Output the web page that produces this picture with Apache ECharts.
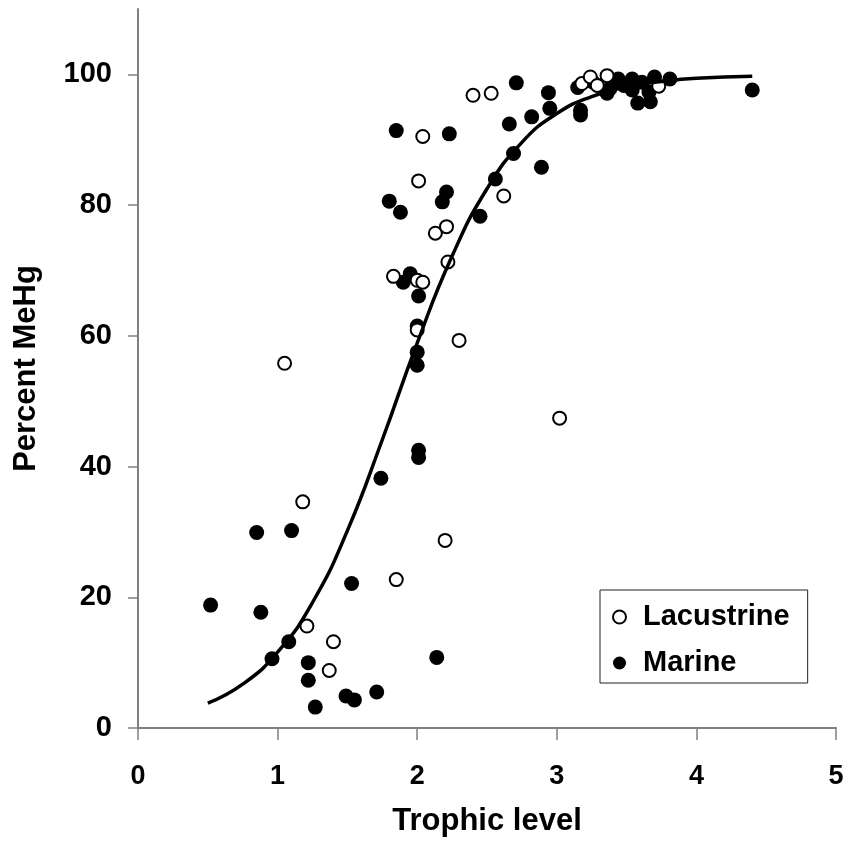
<!DOCTYPE html>
<html>
<head>
<meta charset="utf-8">
<script src="https://cdn.jsdelivr.net/npm/echarts@6/dist/echarts.min.js"></script>
<style>
  html, body { margin: 0; padding: 0; background: #fff; }
  #chart { width: 849px; height: 850px; }
</style>
</head>
<body>
<div id="chart"></div>
<script>
// Percent methylmercury versus trophic level, lake and marine food webs
const lacustrine = [
  [1.05, 55.8], [1.18, 34.6], [1.21, 15.6], [1.40, 13.2], [1.37, 8.8],
  [1.85, 22.7], [2.20, 28.7], [3.02, 47.4], [2.30, 59.3], [2.00, 60.9],
  [1.83, 69.1], [2.00, 68.5], [2.04, 68.2], [2.22, 71.3], [2.13, 75.7],
  [2.21, 76.7], [2.01, 83.7], [2.04, 90.5], [2.62, 81.4], [2.40, 96.8],
  [2.53, 97.1], [3.18, 98.6], [3.24, 99.6], [3.29, 98.3], [3.36, 99.8],
  [3.73, 98.2]
];

const marine = [
  [0.52, 18.8], [0.85, 29.9], [0.88, 17.7], [0.96, 10.6], [1.08, 13.2],
  [1.10, 30.2], [1.22, 10.0], [1.22, 7.3], [1.27, 3.2], [1.49, 4.9],
  [1.55, 4.3], [1.53, 22.1], [1.71, 5.5], [1.74, 38.2], [2.14, 10.8],
  [2.01, 41.4], [2.01, 42.5], [2.00, 55.5], [2.00, 57.5], [2.00, 61.5],
  [2.01, 66.1], [1.90, 68.2], [1.95, 69.5], [1.80, 80.6], [1.88, 78.9],
  [1.85, 91.4], [2.18, 80.5], [2.21, 82.0], [2.23, 90.9], [2.45, 78.3],
  [2.56, 84.0], [2.66, 92.4], [2.69, 87.9], [2.71, 98.7], [2.82, 93.5],
  [2.89, 85.8], [2.94, 97.2], [2.95, 94.8], [3.17, 94.5], [3.17, 93.8],
  [3.15, 98.0], [3.26, 98.8], [3.36, 97.1], [3.38, 97.8], [3.44, 99.3],
  [3.48, 98.3], [3.54, 99.3], [3.54, 97.6], [3.61, 98.8], [3.66, 97.3],
  [3.70, 99.6], [3.81, 99.3], [3.58, 95.6], [3.67, 95.8], [4.40, 97.6]
];

// Fitted sigmoid curve, sampled along trophic level
const curveX = [0.5, 0.75, 1.0, 1.25, 1.5, 1.75, 2.0, 2.25, 2.5, 2.75, 3.0, 3.25, 3.5, 3.75, 4.0, 4.4];
const curveY = [3.8, 6.7, 11.6, 19.2, 30.2, 44.1, 58.9, 72.2, 82.5, 89.6, 94.0, 96.6, 98.1, 98.9, 99.4, 99.7];

const yTicks = [0, 20, 40, 60, 80, 100];

const FONT = '"Liberation Sans", Arial, sans-serif';
const AXIS_GREY = '#808080';

const chart = echarts.init(document.getElementById('chart'), null, { renderer: 'canvas' });

chart.setOption({
  animation: false,
  backgroundColor: '#fff',
  grid: { left: 138, right: 13, top: 9, bottom: 122, containLabel: false },
  xAxis: {
    type: 'value',
    min: 0,
    max: 5,
    interval: 1,
    name: 'Trophic level',
    nameLocation: 'middle',
    nameGap: 78,
    nameTextStyle: { fontFamily: FONT, fontWeight: 'bold', fontSize: 31, color: '#000' },
    axisLine: { lineStyle: { color: AXIS_GREY, width: 2 } },
    axisTick: { length: 12, lineStyle: { color: AXIS_GREY, width: 1.5 } },
    axisLabel: { margin: 35, fontFamily: FONT, fontWeight: 'bold', fontSize: 27, color: '#000' },
    splitLine: { show: false }
  },
  yAxis: {
    type: 'value',
    min: 0,
    max: 110,
    interval: 20,
    name: 'Percent MeHg',
    nameLocation: 'middle',
    nameGap: 96,
    nameTextStyle: { fontFamily: FONT, fontWeight: 'bold', fontSize: 31, color: '#000' },
    axisLine: { lineStyle: { color: AXIS_GREY, width: 2 } },
    axisTick: { length: 10, customValues: yTicks, lineStyle: { color: AXIS_GREY, width: 1.5 } },
    axisLabel: { margin: 26, customValues: yTicks, fontFamily: FONT, fontWeight: 'bold', fontSize: 29, color: '#000' },
    splitLine: { show: false }
  },
  legend: {
    orient: 'vertical',
    left: 600,
    top: 590,
    padding: [12, 18, 5, 12],
    borderColor: '#222',
    borderWidth: 1,
    itemWidth: 13,
    itemHeight: 13,
    itemGap: 16,
    textStyle: { fontFamily: FONT, fontWeight: 'bold', fontSize: 29, lineHeight: 30, color: '#000', padding: [0, 0, 0, 12] },
    data: [
      { name: 'Lacustrine', icon: 'circle', itemStyle: { color: '#fff', borderColor: '#000', borderWidth: 2 } },
      { name: 'Marine', icon: 'circle', itemStyle: { color: '#000', borderWidth: 0 } }
    ]
  },
  series: [
    {
      name: 'Marine',
      type: 'scatter',
      data: marine,
      symbol: 'circle',
      symbolSize: 15,
      itemStyle: { color: '#000', opacity: 1 },
      z: 2
    },
    {
      name: 'Lacustrine',
      type: 'scatter',
      data: lacustrine,
      symbol: 'circle',
      symbolSize: 13,
      itemStyle: { color: '#fff', borderColor: '#000', borderWidth: 2, opacity: 1 },
      z: 2
    },
    {
      name: 'Fit',
      type: 'line',
      data: curveX.map((x, i) => [x, curveY[i]]),
      smooth: true,
      symbol: 'none',
      lineStyle: { color: '#000', width: 3.5 },
      z: 3
    }
  ]
});
</script>
</body>
</html>
